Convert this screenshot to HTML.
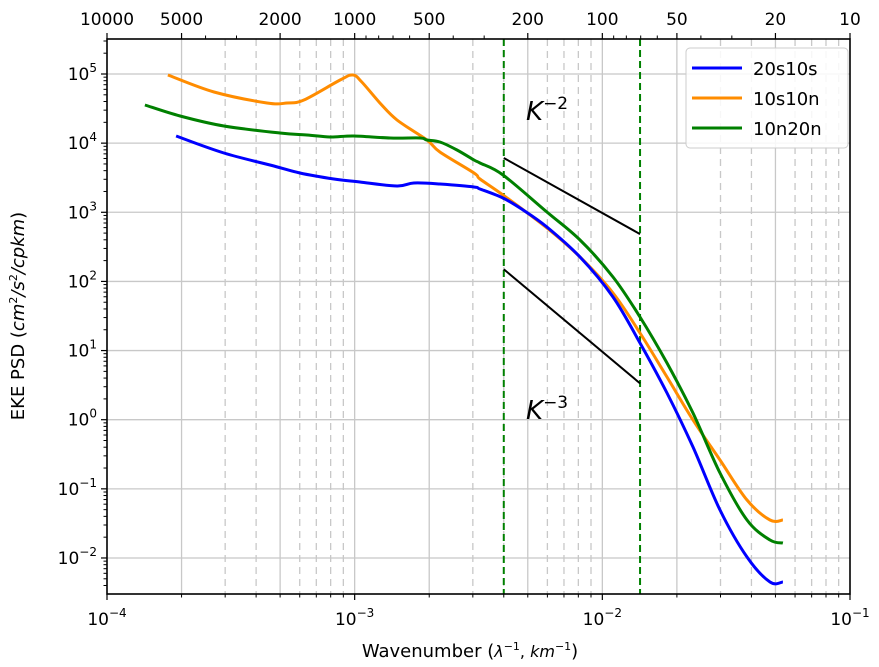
<!DOCTYPE html>
<html><head><meta charset="utf-8"><style>
body{margin:0;background:#fff;}
svg{display:block;font-family:"DejaVu Sans","Liberation Sans",sans-serif;}
</style></head><body>
<svg id="chart" width="879" height="667" viewBox="0 0 879 667" xmlns="http://www.w3.org/2000/svg">
<g id="grid"></g>
<g id="series"></g>
<g id="axes"></g>
<text x="470" y="657" font-size="18" text-anchor="middle">Wavenumber (<tspan font-style="italic" font-size="16">λ</tspan><tspan font-size="11" dy="-7">−1</tspan><tspan dy="7" font-size="16">, </tspan><tspan font-style="italic" font-size="16">km</tspan><tspan font-size="11" dy="-7">−1</tspan><tspan dy="7">)</tspan></text>
<text transform="translate(24,316) rotate(-90)" font-size="18" text-anchor="middle">EKE PSD (<tspan font-style="italic">cm</tspan><tspan font-size="11" dy="-7">2</tspan><tspan dy="7" font-style="italic">/s</tspan><tspan font-size="11" dy="-7">2</tspan><tspan dy="7" font-style="italic">/cpkm</tspan>)</text>
<text x="526" y="120" font-size="26" font-style="italic">K<tspan font-style="normal" font-size="17" dy="-11">−2</tspan></text>
<text x="526" y="419" font-size="26" font-style="italic">K<tspan font-style="normal" font-size="17" dy="-11">−3</tspan></text>
<g>
<rect x="686" y="48" width="162" height="100" rx="4" fill="#fff" fill-opacity="0.85" stroke="#ccc"/>
<line x1="692" y1="68" x2="742" y2="68" stroke="#0000ff" stroke-width="3"/>
<text x="753" y="75" font-size="18">20s10s</text>
<line x1="692" y1="98" x2="742" y2="98" stroke="#ff8c00" stroke-width="3"/>
<text x="753" y="105" font-size="18">10s10n</text>
<line x1="692" y1="128" x2="742" y2="128" stroke="#008000" stroke-width="3"/>
<text x="753" y="135" font-size="18">10n20n</text>
</g>
</svg>
<script>
const blueLogK=[-3.721,-3.528,-3.326,-3.221,-3.084,-2.979,-2.829,-2.761,-2.656,-2.518,-2.494,-2.401,-2.320,-2.224,-2.090,-1.957,-1.848,-1.739,-1.634,-1.525,-1.416,-1.323,-1.271];
const blueLogP=[4.103,3.857,3.669,3.568,3.481,3.438,3.380,3.424,3.409,3.366,3.337,3.207,3.033,2.787,2.353,1.775,1.109,0.386,-0.395,-1.306,-1.986,-2.348,-2.348];
const orangeLogK=[-3.754,-3.568,-3.354,-3.273,-3.205,-3.059,-3.007,-2.971,-2.898,-2.829,-2.708,-2.656,-2.518,-2.494,-2.401,-2.224,-2.090,-1.957,-1.848,-1.739,-1.634,-1.525,-1.416,-1.323,-1.271];
const orangeLogP=[4.986,4.740,4.581,4.581,4.624,4.913,4.986,4.884,4.581,4.335,4.045,3.872,3.568,3.481,3.250,2.773,2.353,1.832,1.254,0.618,-0.004,-0.583,-1.161,-1.451,-1.451];
const greenLogK=[-3.847,-3.705,-3.528,-3.302,-3.193,-3.100,-3.003,-2.857,-2.736,-2.708,-2.656,-2.587,-2.518,-2.494,-2.401,-2.224,-2.090,-1.957,-1.848,-1.739,-1.634,-1.525,-1.416,-1.323,-1.271];
const greenLogP=[4.552,4.393,4.248,4.147,4.118,4.089,4.103,4.074,4.074,4.045,4.017,3.901,3.756,3.713,3.539,3.004,2.599,2.064,1.485,0.820,0.097,-0.771,-1.451,-1.740,-1.783];
const refK=[0.004,0.0142];
const k2Start=6100, k3Start=150;
const yTickExp=[5,4,3,2,1,0,-1,-2];
const xTickExp=[-4,-3,-2,-1];
const topLabels=[10000,5000,2000,1000,500,200,100,50,20,10];

const L=107,R=850,T=39,B=594;
const X=lk=>L+(lk+4)*(R-L)/3;
const Y=lp=>74+(5-lp)*69.14;
const NS='http://www.w3.org/2000/svg';
function mk(parent,tag,attrs){const e=document.createElementNS(NS,tag);for(const k in attrs)e.setAttribute(k,attrs[k]);parent.appendChild(e);return e;}
const grid=document.getElementById('grid'),ser=document.getElementById('series'),ax=document.getElementById('axes');
for(let d=-4;d<-1;d++){for(let m=1;m<10;m++){const x=X(d+Math.log10(m));if(m==1&&d==-4)continue;
 const dashed=!(m==1||m==2||m==5);
 const g=mk(grid,'line',{x1:x,x2:x,y1:T,y2:B,stroke:'#c8c8c8','stroke-width':1.3,'stroke-dasharray':dashed?'7,5':'none'});
 
 }}
for(const e of yTickExp){const y=Y(e);const g=mk(grid,'line',{x1:L,x2:R,y1:y,y2:y,stroke:'#c8c8c8','stroke-width':1.3});
 
 }
for(const k of refK){const x=X(Math.log10(k));const v=mk(ser,'line',{x1:x,x2:x,y1:T,y2:B,stroke:'#008000','stroke-width':2,'stroke-dasharray':'7,4'});
 
 }
function slope(p0,n,name){const a=Math.log10(refK[0]),b=Math.log10(refK[1]);const l0=Math.log10(p0);
 const s=mk(ser,'line',{x1:X(a),y1:Y(l0),x2:X(b),y2:Y(l0-n*(b-a)),stroke:'#000','stroke-width':2});
 
 }
slope(k2Start,2,'k-minus-2-line');slope(k3Start,3,'k-minus-3-line');
function line(ks,ps,color,name){const P=ks.map((k,i)=>[X(k),Y(ps[i])]);
 let d='M'+P[0][0].toFixed(1)+','+P[0][1].toFixed(1);
 for(let i=0;i<P.length-1;i++){const p0=P[Math.max(0,i-1)],p1=P[i],p2=P[i+1],p3=P[Math.min(P.length-1,i+2)];
  const c1=[p1[0]+(p2[0]-p0[0])/6,p1[1]+(p2[1]-p0[1])/6],c2=[p2[0]-(p3[0]-p1[0])/6,p2[1]-(p3[1]-p1[1])/6];
  d+=' C'+c1.map(v=>v.toFixed(1)).join(',')+' '+c2.map(v=>v.toFixed(1)).join(',')+' '+p2[0].toFixed(1)+','+p2[1].toFixed(1);}
 const p=mk(ser,'path',{d:d,fill:'none',stroke:color,'stroke-width':3,'stroke-linejoin':'round'});
 
 }
line(orangeLogK,orangeLogP,'#ff8c00','series-10s10n');
line(greenLogK,greenLogP,'#008000','series-10n20n');
line(blueLogK,blueLogP,'#0000ff','series-20s10s');
const f=mk(ax,'rect',{x:L,y:T,width:R-L,height:B-T,fill:'none',stroke:'#000','stroke-width':1.6});


for(const e of xTickExp){const x=X(e);mk(ax,'line',{x1:x,x2:x,y1:B,y2:B+6,stroke:'#000','stroke-width':1.2});
 const t=mk(ax,'text',{x:x,y:B+31,'font-size':17,'text-anchor':'middle'});t.innerHTML='10<tspan font-size="12" dy="-8">−'+(-e)+'</tspan>';
 
 
 if(e<-1)for(let m=2;m<10;m++){const xm=X(e+Math.log10(m));mk(ax,'line',{x1:xm,x2:xm,y1:B,y2:B+3.5,stroke:'#000','stroke-width':1});}}
for(const w of topLabels){const x=X(Math.log10(1/w));mk(ax,'line',{x1:x,x2:x,y1:T,y2:T-6,stroke:'#000','stroke-width':1.2});
 const t=mk(ax,'text',{x:x,y:T-14,'font-size':17,'text-anchor':'middle'});t.textContent=w;
 
 }
for(const w of [3000,4000,300,400,30,40,600,700,800,900,60,70,80,90]){const x=X(Math.log10(1/w));mk(ax,'line',{x1:x,x2:x,y1:T,y2:T-3.5,stroke:'#000','stroke-width':1});}
for(const e of yTickExp){const y=Y(e);mk(ax,'line',{x1:L,x2:L-6,y1:y,y2:y,stroke:'#000','stroke-width':1.2});
 const t=mk(ax,'text',{x:L-10,y:y+6,'font-size':17,'text-anchor':'end'});t.innerHTML='10<tspan font-size="12" dy="-8">'+(e<0?'−'+(-e):e)+'</tspan>';
 
 
 for(let m=2;m<10;m++){const ym=Y(e-1+Math.log10(m));if(ym>B||ym<T)continue;mk(ax,'line',{x1:L,x2:L-3.5,y1:ym,y2:ym,stroke:'#000','stroke-width':1});}}
for(let m=2;m<4;m++){const ym=Y(5+Math.log10(m));if(ym>T)mk(ax,'line',{x1:L,x2:L-3.5,y1:ym,y2:ym,stroke:'#000','stroke-width':1});}
</script>
</body></html>
